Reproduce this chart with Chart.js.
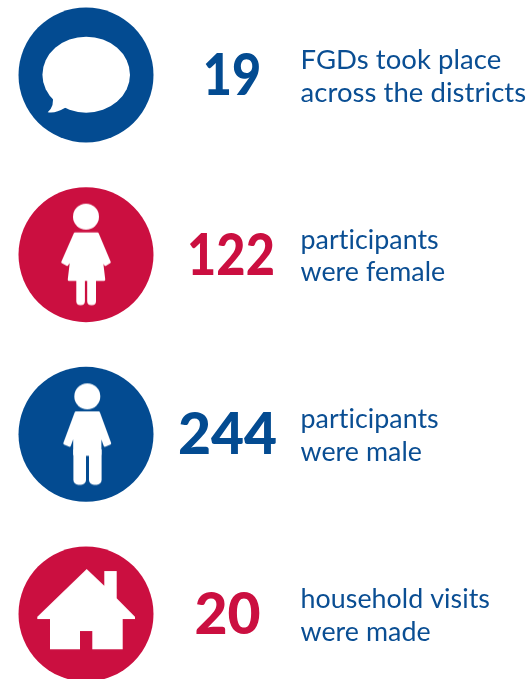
<!DOCTYPE html>
<html>
<head>
<meta charset="utf-8">
<style>html,body{margin:0;padding:0;background:#fff;overflow:hidden}canvas{display:block}</style>
<script src="https://cdn.jsdelivr.net/npm/chart.js@4"></script>
</head>
<body>
<canvas id="c" width="529" height="679" style="width:529px;height:679px"></canvas>
<script>
const categories = ['FGDs', 'female', 'male', 'households'];
const counts = [19, 122, 244, 20];
const captionLine1 = ['FGDs took place', 'participants', 'participants', 'household visits'];
const captionLine2 = ['across the districts', 'were female', 'were male', 'were made'];

const BLUE = '#034b91', RED = '#cb0f40', TEXT_BLUE = '#0a4e93';
const rowColors = [BLUE, RED, BLUE, RED];
const numberNudge = [3, 2, -1.5, -1.5];
const numberSqueeze = [0.885, 0.885, 1, 1];
const captionSize = [27.5, 26.8, 26.8, 26.8];

function iconCanvas(draw) {
  const cv = document.createElement('canvas');
  cv.width = 140; cv.height = 140;
  const g = cv.getContext('2d');
  g.translate(70, 70);
  g.fillStyle = '#fff'; g.strokeStyle = '#fff';
  g.lineJoin = 'round'; g.lineCap = 'round';
  draw(g);
  return cv;
}
function poly(g, pts, lw) {
  g.beginPath();
  pts.forEach((p, i) => i ? g.lineTo(p[0], p[1]) : g.moveTo(p[0], p[1]));
  g.closePath(); g.fill();
  if (lw) { g.lineWidth = lw; g.stroke(); }
}
function head(g, x, y) { g.beginPath(); g.arc(x, y, 13, 0, Math.PI * 2); g.fill(); }

const bubble = iconCanvas(g => {
  g.beginPath(); g.ellipse(0.2, -0.3, 43.8, 38, 0, 0, Math.PI * 2); g.fill();
  g.beginPath();
  g.moveTo(-33.7, 20);
  g.quadraticCurveTo(-31, 31, -38.3, 37.2);
  g.quadraticCurveTo(-30, 38.5, -21.7, 33.3);
  g.lineTo(-15, 30);
  g.closePath(); g.fill();
});
const female = iconCanvas(g => {
  head(g, 0, -38);
  poly(g, [[-11,-21],[11.5,-21],[23.5,7.5],[19.5,10],[15.5,4],[18,25],[-17,25],[-14.5,4],[-19,10],[-23.5,7.5]], 2.5);
  g.beginPath(); g.roundRect(-9.7, 24, 8.6, 26.5, [0,0,4,4]); g.fill();
  g.beginPath(); g.roundRect(1.2, 24, 8.8, 26.5, [0,0,4,4]); g.fill();
});
const male = iconCanvas(g => {
  head(g, 1.3, -38);
  poly(g, [[-10,-21.5],[12.6,-21.5],[23.8,9],[19,11],[14,-3],[14,20],[-11.4,20],[-11.4,-3],[-16.5,11],[-21.3,9]], 2.8);
  g.beginPath(); g.roundRect(-12.6, 15, 12.6, 35.5, [0,0,5,5]); g.fill();
  g.beginPath(); g.roundRect(3, 15, 12.6, 35.5, [0,0,5,5]); g.fill();
});
const house = iconCanvas(g => {
  poly(g, [[0.7,-45],[18.3,-28.3],[18.3,-43],[30.7,-43],[30.7,-15.7],[49,2.7],[49,5],[36.7,5],[36.7,35.3],[6.3,35.3],[6.3,17],[-6,17],[-6,35.3],[-36,35.3],[-36,5],[-48.7,5],[-48.7,2.7]]);
});
const icons = [bubble, female, male, house];

const textPlugin = {
  id: 'rowText',
  afterDatasetsDraw(chart) {
    const { ctx, scales: { x, y } } = chart;
    ctx.save();
    ctx.textBaseline = 'alphabetic';
    categories.forEach((_, i) => {
      const py = y.getPixelForValue(i);
      ctx.fillStyle = rowColors[i];
      ctx.letterSpacing = '0px';
      ctx.font = '900 57px Lato';
      ctx.textAlign = 'center';
      ctx.save();
      ctx.translate(x.getPixelForValue(1) + numberNudge[i], py + 20);
      ctx.scale(numberSqueeze[i], 1);
      ctx.fillText(String(counts[i]), 0, 0);
      ctx.restore();
      ctx.fillStyle = TEXT_BLUE;
      ctx.letterSpacing = '0.05px';
      ctx.font = '400 ' + captionSize[i] + 'px Lato';
      ctx.textAlign = 'left';
      const tx = x.getPixelForValue(1.5);
      ctx.fillText(captionLine1[i], tx, py - 6);
      ctx.fillText(captionLine2[i], tx, py + 26.5);
    });
    ctx.restore();
  }
};

new Chart(document.getElementById('c'), {
  type: 'scatter',
  data: {
    datasets: [
      {
        label: 'icons', order: 1,
        data: categories.map((_, i) => ({ x: 0, y: i })),
        pointStyle: icons, pointRadius: 10
      },
      {
        label: 'discs', order: 2,
        data: categories.map((_, i) => ({ x: 0, y: i })),
        pointStyle: 'circle', pointRadius: 67.5, borderWidth: 0,
        backgroundColor: rowColors
      }
    ]
  },
  options: {
    responsive: false,
    animation: false,
    devicePixelRatio: 1,
    layout: { padding: 0, autoPadding: false },
    clip: false,
    plugins: { legend: { display: false }, tooltip: { enabled: false } },
    events: [],
    scales: {
      x: { type: 'linear', display: false, min: -86 / 143, max: 443 / 143 },
      y: { type: 'linear', display: false, reverse: true, min: -75 / 179.67, max: 604 / 179.67 }
    }
  },
  plugins: [textPlugin]
});
</script>
</body>
</html>
